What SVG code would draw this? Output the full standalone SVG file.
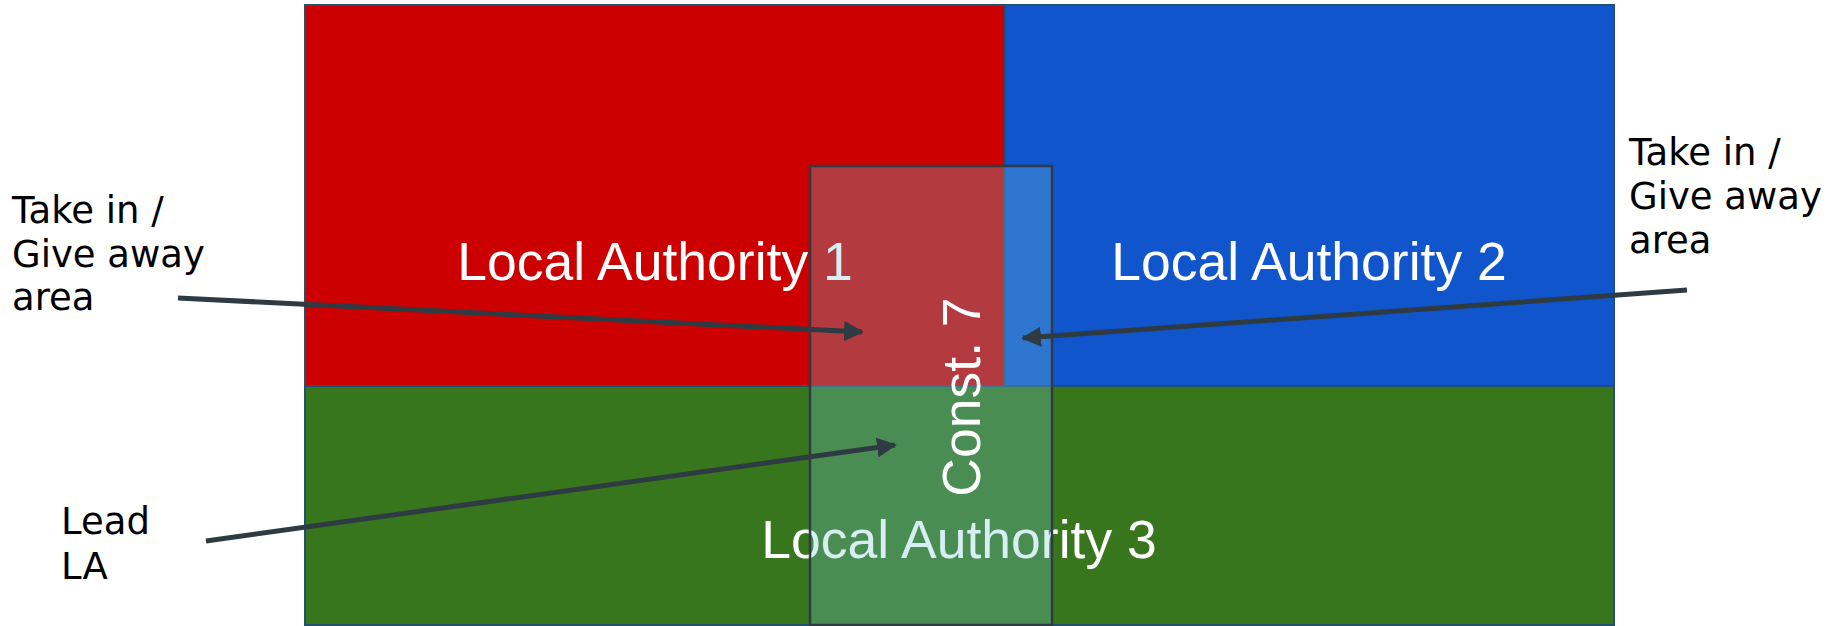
<svg xmlns="http://www.w3.org/2000/svg" width="1833" height="626" viewBox="0 0 1833 626">
<defs>
<style>
.area{stroke:#23506f;stroke-width:2}
.la{font-family:"Liberation Sans",Arial,sans-serif;font-size:53.5px;fill:#ffffff;text-anchor:middle}
.note{font-family:"DejaVu Sans",Verdana,sans-serif;font-size:37px;fill:#000000}
.conn{stroke:#2e3b43;stroke-width:5;fill:none;marker-end:url(#ah)}
</style>
<marker id="ah" viewBox="0 0 10 10" refX="9" refY="5" markerWidth="4" markerHeight="4" orient="auto" markerUnits="strokeWidth">
<path d="M0,0 L10,5 L0,10 z" fill="#2e3b43"/>
</marker>
</defs>
<rect width="1833" height="626" fill="#ffffff"/>
<g id="la1">
<rect class="area" x="305" y="5" width="700" height="381" fill="#cc0000"/>
<text class="la" x="655" y="280">Local Authority 1</text>
</g>
<g id="la2">
<rect class="area" x="1005" y="5" width="609" height="381" fill="#1155cc"/>
<text class="la" x="1309" y="280">Local Authority 2</text>
</g>
<g id="la3">
<rect class="area" x="305" y="386" width="1309" height="239" fill="#38761d"/>
<text class="la" x="959" y="558">Local Authority 3</text>
</g>
<g id="const7">
<rect x="810" y="166" width="242" height="459" fill="#76c8d6" fill-opacity="0.29" stroke="#2e3b43" stroke-width="2.5"/>
<text class="la" transform="translate(980,397) rotate(-90)">Const. 7</text>
</g>
<g id="label-left">
<text class="note" x="12" y="223">Take in /</text>
<text class="note" x="12" y="267">Give away</text>
<text class="note" x="12" y="310">area</text>
</g>
<g id="label-right">
<text class="note" x="1629" y="165">Take in /</text>
<text class="note" x="1629" y="209">Give away</text>
<text class="note" x="1629" y="253">area</text>
</g>
<g id="label-lead">
<text class="note" x="61" y="534">Lead</text>
<text class="note" x="61" y="579">LA</text>
</g>
<g id="connectors">
<line class="conn" x1="178" y1="298" x2="862" y2="332"/>
<line class="conn" x1="1687" y1="290" x2="1023" y2="338"/>
<line class="conn" x1="206" y1="541" x2="895" y2="445"/>
</g>
</svg>
